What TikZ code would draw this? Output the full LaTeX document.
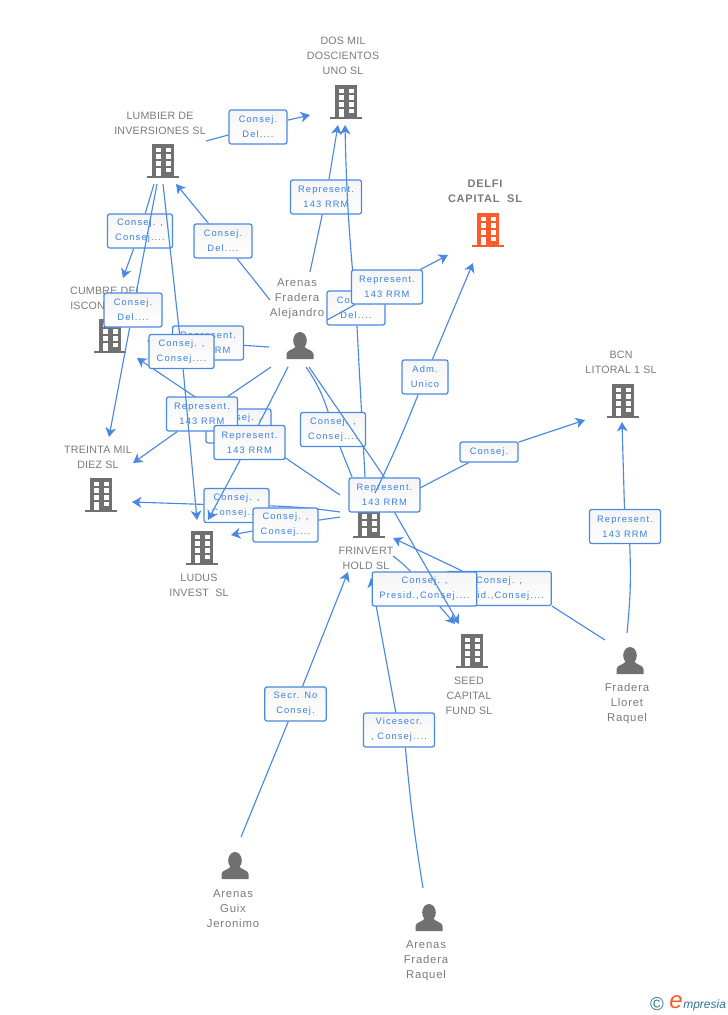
\documentclass[tikz,border=0pt]{standalone}
\usepackage{fontspec}
\setmainfont{Liberation Sans}
\newfontfamily\boxfont[LetterSpace=12]{Liberation Sans}
\newfontfamily\namefont[LetterSpace=2]{Liberation Sans}
\newfontfamily\peoplefont[LetterSpace=7]{Liberation Sans}
\usetikzlibrary{arrows.meta}

\definecolor{linkblue}{HTML}{4A88E2}
\definecolor{textblue}{HTML}{3B80E4}
\definecolor{icongrey}{HTML}{707070}
\definecolor{namegrey}{HTML}{7A7A7A}
\definecolor{mainorange}{HTML}{FF5A2B}
\definecolor{logoteal}{HTML}{2F7390}

\tikzset{
    link/.style={draw=linkblue, line width=0.85pt},
    relbox/.style={draw=linkblue, line width=0.9pt, rounded corners=1.6pt, top color=black!4, bottom color=white,
        text=textblue, align=center, inner sep=0pt, font=\boxfont\fontsize{7}{11.25}\selectfont, minimum height=25.5pt},
    boxS/.style={relbox, minimum width=43.5pt},
    boxM/.style={relbox, minimum width=48.75pt},
    boxL/.style={relbox, minimum width=53.25pt},
    boxXL/.style={relbox, minimum width=78.5pt},
    entity/.style={text=namegrey, align=center, inner sep=0pt, font=\namefont\fontsize{8}{11.25}\selectfont},
    people/.style={entity, font=\peoplefont\fontsize{8.5}{11.25}\selectfont},
    pics/building/.style={code={
        \fill[#1] (-11,0) rectangle (11,32);
        \fill[#1] (-16,32) rectangle (16,34);
        \foreach \yy in {3.5,10,17}
            \foreach \xx in {-7.5,2.5}
                \fill[white] (\xx,\yy) rectangle +(5,4.5);
        \fill[white] (2.5,23.5) rectangle +(5,4.5);
        \fill[white] (-7.5,23.5) rectangle (-2.5,32);
    }},
    pics/person/.style={code={
        \fill[icongrey] (0,8.5) ellipse (6.8 and 8.5);
        \fill[icongrey] (-13.5,27) -- (-13.5,22) .. controls (-13.5,18) and (-6,18) .. (-4,14) -- (4,14)
            .. controls (6,18) and (13.5,18) .. (13.5,22) -- (13.5,27) -- cycle;
    }}
}

\begin{document}
\begin{tikzpicture}[x=0.75pt, y=-0.75pt, >={Stealth[length=7pt,width=8pt,inset=2pt]}]
    \useasboundingbox (0,0) rectangle (728,1015);

    % companies and people
    \pic at (346,85) {building=icongrey};
    \pic at (163,144) {building=icongrey};
    \pic at (488,213) {building=mainorange};
    \pic at (110,319) {building=icongrey};
    \pic at (623,384) {building=icongrey};
    \pic at (101,478) {building=icongrey};
    \pic at (202,531) {building=icongrey};
    \pic at (369,504) {building=icongrey};
    \pic at (472,634) {building=icongrey};
    \pic at (300,332) {person};
    \pic at (630,647) {person};
    \pic at (235,852) {person};
    \pic at (429,904) {person};

    \node[entity] (dosmil) at (343,55.5) {DOS MIL\\DOSCIENTOS\\UNO SL};
    \node[entity] (lumbier) at (160,123) {LUMBIER DE\\INVERSIONES SL};
    \node[entity, font=\peoplefont\bfseries\fontsize{8.25}{11.25}\selectfont] (delfi) at (485,191) {DELFI\\CAPITAL\ \ SL};
    \node[entity] (cumbre) at (106,290.5) {CUMBRE DEL};
    \node[entity, anchor=west] (iscon) at (70,305.5) {ISCON};
    \node[entity] (bcn) at (621,362) {BCN\\LITORAL 1 SL};
    \node[entity] (treinta) at (98,457) {TREINTA MIL\\DIEZ SL};
    \node[entity] (ludus) at (199,585) {LUDUS\\INVEST\ \ SL};
    \node[entity] (frinvert) at (366,558) {FRINVERT\\HOLD SL};
    \node[entity] (seed) at (469,695.5) {SEED\\CAPITAL\\FUND SL};
    \node[people] (alejandro) at (297,298.5) {Arenas\\Fradera\\Alejandro};
    \node[people] (lloret) at (627,703.5) {Fradera\\Lloret\\Raquel};
    \node[people] (jeronimo) at (233,908.5) {Arenas\\Guix\\Jeronimo};
    \node[people] (raquel) at (426,960.5) {Arenas\\Fradera\\Raquel};

    % free ends of the links
    \coordinate (lumA) at (206,141);
    \coordinate (lumB) at (154,184);
    \coordinate (lumC) at (157,184);
    \coordinate (lumD) at (163,184);
    \coordinate (lumIn) at (176,184);
    \coordinate (dosA) at (310,115);
    \coordinate (dosB) at (338,125);
    \coordinate (dosC) at (345,125);
    \coordinate (aleA) at (310,272);
    \coordinate (aleB) at (327,320);
    \coordinate (aleC) at (270,300);
    \coordinate (aleD) at (269,347);
    \coordinate (aleE) at (271,367);
    \coordinate (aleF) at (288,367);
    \coordinate (aleG) at (306,367);
    \coordinate (aleH) at (309,367);
    \coordinate (delA) at (448,255);
    \coordinate (delB) at (473,263);
    \coordinate (friA) at (365,477);
    \coordinate (friB) at (340,495);
    \coordinate (friC) at (340,512);
    \coordinate (friD) at (340,517);
    \coordinate (friE) at (352,477);
    \coordinate (friF) at (375,493);
    \coordinate (friG) at (420,488);
    \coordinate (friH) at (393,556);
    \coordinate (friK) at (393,538);
    \coordinate (friL) at (371,578);
    \coordinate (friM) at (348,572);
    \coordinate (cumA) at (123,278);
    \coordinate (cumB) at (147,341);
    \coordinate (cumC) at (137,358);
    \coordinate (treA) at (109,437);
    \coordinate (treB) at (133,463);
    \coordinate (treC) at (132,502);
    \coordinate (ludA) at (197,520);
    \coordinate (ludB) at (208,520);
    \coordinate (ludC) at (231,535);
    \coordinate (seeA) at (459,624);
    \coordinate (seeB) at (455,624);
    \coordinate (bcnA) at (585,420);
    \coordinate (bcnB) at (622,422);
    \coordinate (lloA) at (627,633);
    \coordinate (lloB) at (605,640);
    \coordinate (guiA) at (241,837);
    \coordinate (raqA) at (423,888);

    % links, each with its box, in stacking order
    \node[boxS] (lumDos) at (258,127) {Consej.\\Del....};
    \draw[link] (lumA) -- (lumDos);
    \draw[link,->] (lumDos) -- (dosA);

    \node[boxL] (aleDos) at (326,197) {Represent.\\143 RRM};
    \draw[link] (aleA) -- (aleDos);
    \draw[link,->] (aleDos) -- (dosB);

    \node[boxS] (friDos) at (356,308) {Consej.\\Del....};
    \draw[link] (friA) -- (friDos);
    \draw[link,->] (friDos) to[bend left=2] (dosC);

    \node[boxL] (aleDel) at (387,287) {Represent.\\143 RRM};
    \draw[link] (aleB) -- (aleDel);
    \draw[link,->] (aleDel) -- (delA);

    \node[boxS] (aleLum) at (223,241) {Consej.\\Del....};
    \draw[link] (aleC) -- (aleLum);
    \draw[link,->] (aleLum) -- (lumIn);

    \node[boxM] (lumCum) at (140,231) {Consej. ,\\Consej....};
    \draw[link] (lumB) -- (lumCum);
    \draw[link,->] (lumCum) -- (cumA);

    \node[boxS] (lumTre) at (133,310) {Consej.\\Del....};
    \draw[link] (lumC) -- (lumTre);
    \draw[link,->] (lumTre) -- (treA);

    \node[boxM] (friCum) at (238.5,426) {Consej. ,\\Consej....};
    \draw[link] (friB) -- (friCum);
    \draw[link,->] (friCum) -- (cumC);

    \node[boxL] (aleTre) at (202,414) {Represent.\\143 RRM};
    \draw[link] (aleE) -- (aleTre);
    \draw[link,->] (aleTre) -- (treB);

    \node[boxL] (aleCum) at (208,343) {Represent.\\143 RRM};
    \draw[link] (aleD) -- (aleCum);
    \draw[link,->] (aleCum) -- (cumB);

    \node[boxM] (lumLud) at (181.5,351.5) {Consej. ,\\Consej....};
    \draw[link] (lumD) -- (lumLud);
    \draw[link,->] (lumLud) -- (ludA);

    \node[boxM] (friTre) at (236.5,505.5) {Consej. ,\\Consej....};
    \draw[link] (friC) to[bend right=3] (friTre);
    \draw[link,->] (friTre) -- (treC);

    \node[boxM] (friLud) at (285.5,525) {Consej. ,\\Consej....};
    \draw[link] (friD) -- (friLud);
    \draw[link,->] (friLud) -- (ludC);

    \node[boxL] (aleLud) at (249.5,442.5) {Represent.\\143 RRM};
    \draw[link] (aleF) -- (aleLud);
    \draw[link,->] (aleLud) -- (ludB);

    \node[boxM] (aleFri) at (333,429.5) {Consej. ,\\Consej....};
    \draw[link] (aleG) to[bend left=8] (aleFri);
    \draw[link] (aleFri) -- (friE);

    \node[boxS, minimum width=34.5pt] (friDel) at (425,377) {Adm.\\Unico};
    \node[boxS, minimum height=15pt] (friBcn) at (489,452) {Consej.};
    \draw[link] (friG) -- (friBcn);
    \draw[link,->] (friBcn) -- (bcnA);

    \node[boxL] (lloBcn) at (625,526.5) {Represent.\\143 RRM};
    \draw[link] (lloA) to[bend right=4] (lloBcn.-75);
    \draw[link,->] (lloBcn) -- (bcnB);

    \node[boxS, minimum width=46pt] (guiFri) at (295.5,704) {Secr. No\\Consej.};
    \draw[link] (guiA) -- (guiFri);
    \draw[link,->] (guiFri) -- (friM);

    \node[boxL] (raqFri) at (399,730) {Vicesecr.\\, Consej....};
    \draw[link] (raqA) to[bend left=2] (raqFri.-70);
    \draw[link,->] (raqFri) -- (friL);

    \node[boxXL] (lloFri) at (499,588.5) {Consej. ,\\Presid.,Consej....};
    \draw[link] (lloB) -- (lloFri.south east);
    \draw[link,->] (lloFri) -- (friK);

    \node[boxXL] (friSee) at (424.5,589) {Consej. ,\\Presid.,Consej....};
    \draw[link] (friH) to[bend left=5] (friSee);
    \draw[link,->] (friSee) -- (seeB);

    \node[boxL] (aleSee) at (384.5,495) {Represent.\\143 RRM};
    \draw[link] (aleH) -- (aleSee.north);
    \draw[link,->] (aleSee) -- (seeA);

    \draw[link] (friF) to[bend right=2] (friDel);
    \draw[link,->] (friDel) -- (delB);

    % logo
    \node[inner sep=0pt, text=logoteal, font=\fontsize{14}{14}\selectfont] (copyr) at (657,1004) {\textcopyright};
    \node[inner sep=0pt, anchor=base west, text=logoteal, font=\itshape\fontsize{9}{10}\selectfont] (mark) at (683,1008) {mpresia};
    \node[inner sep=0pt, anchor=base east, text=mainorange, font=\itshape\fontsize{18}{18}\selectfont] (markE) at (mark.base west) {e};
\end{tikzpicture}
\end{document}
